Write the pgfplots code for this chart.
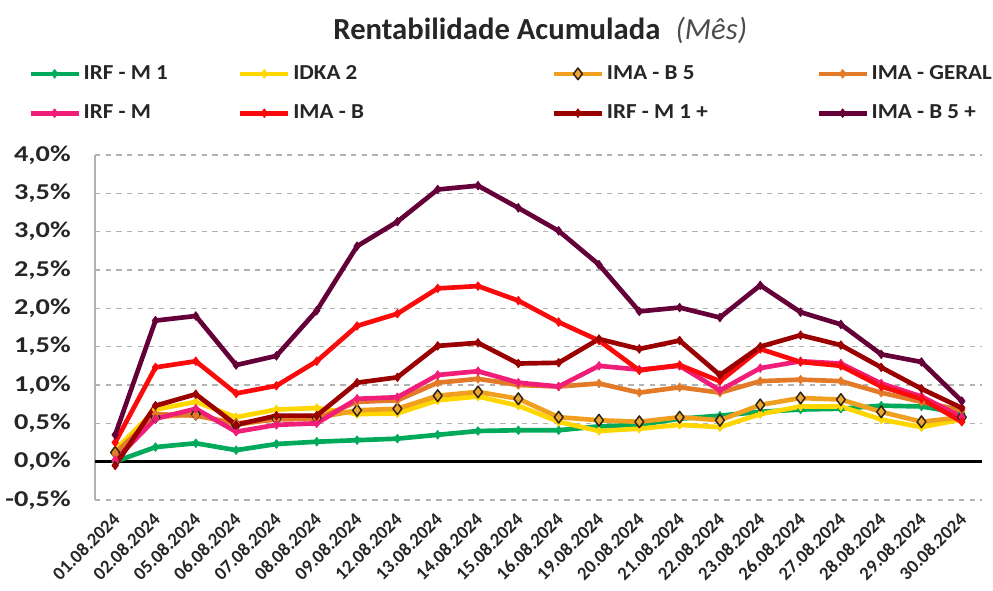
\documentclass[border=0pt]{standalone}
\usepackage{fontspec}
\setmainfont{Carlito}
\newfontfamily\tickfont{Carlito}[FakeStretch=1.25]
\newfontfamily\legfont{Carlito}[FakeStretch=1.08]
\usepackage{pgfplots}
\pgfplotsset{compat=1.18}
\usepackage{pgfplotstable}

\definecolor{cIRFMa}{RGB}{0,170,90}
\definecolor{cIDKA}{RGB}{255,214,0}
\definecolor{cIMABfive}{RGB}{240,160,30}
\definecolor{cIMABfivemark}{RGB}{232,168,50}
\definecolor{cGERAL}{RGB}{226,122,40}
\definecolor{cIRFM}{RGB}{240,30,120}
\definecolor{cIMAB}{RGB}{250,10,10}
\definecolor{cIRFMp}{RGB}{155,0,0}
\definecolor{cIMABfivep}{RGB}{100,0,55}

\pgfplotstableread{
x irfma idka imabfive geral irfm imab irfmp imabfivep
0  0.00 0.15 0.12 0.10 0.02 0.25 -0.05 0.35
1  0.19 0.68 0.58 0.62 0.56 1.23 0.73 1.84
2  0.24 0.78 0.62 0.60 0.69 1.31 0.88 1.90
3  0.15 0.58 0.48 0.50 0.39 0.89 0.48 1.26
4  0.23 0.68 0.56 0.55 0.48 0.99 0.60 1.38
5  0.26 0.70 0.57 0.56 0.50 1.31 0.60 1.97
6  0.28 0.62 0.67 0.78 0.82 1.77 1.03 2.81
7  0.30 0.63 0.69 0.80 0.84 1.93 1.10 3.13
8  0.35 0.80 0.86 1.03 1.13 2.26 1.51 3.55
9  0.40 0.85 0.91 1.08 1.18 2.29 1.55 3.60
10 0.41 0.73 0.82 1.00 1.03 2.10 1.28 3.31
11 0.41 0.52 0.58 0.98 0.98 1.82 1.29 3.01
12 0.46 0.40 0.54 1.02 1.25 1.58 1.60 2.57
13 0.48 0.43 0.52 0.90 1.20 1.19 1.47 1.96
14 0.56 0.48 0.58 0.97 1.25 1.26 1.58 2.01
15 0.60 0.45 0.54 0.90 0.93 1.05 1.13 1.88
16 0.65 0.62 0.74 1.05 1.22 1.47 1.50 2.30
17 0.68 0.72 0.83 1.07 1.31 1.30 1.65 1.95
18 0.69 0.72 0.81 1.05 1.28 1.25 1.52 1.79
19 0.73 0.55 0.65 0.90 1.02 0.98 1.23 1.40
20 0.72 0.45 0.52 0.78 0.85 0.82 0.95 1.30
21 0.63 0.55 0.58 0.67 0.58 0.52 0.70 0.79
}\datatable

\begin{document}
\begin{tikzpicture}
\begin{axis}[
  at={(0pt,0pt)}, anchor=south west,
  scale only axis, width=665.25pt, height=258.75pt,
  xmin=-0.5, xmax=21.5, ymin=-0.5, ymax=4,
  ytick={-0.5,0,0.5,1,1.5,2,2.5,3,3.5,4},
  xtick={0,...,21},
  xticklabels={01.08.2024,02.08.2024,05.08.2024,06.08.2024,07.08.2024,08.08.2024,09.08.2024,12.08.2024,13.08.2024,14.08.2024,15.08.2024,16.08.2024,19.08.2024,20.08.2024,21.08.2024,22.08.2024,23.08.2024,26.08.2024,27.08.2024,28.08.2024,29.08.2024,30.08.2024},
  major tick length=0pt,
  axis y line*=left, axis x line*=bottom,
  x axis line style={draw=none},
  y axis line style={draw=black!30, line width=0.8pt},
  ymajorgrids,
  major grid style={draw=black!30, line width=0.8pt, dash pattern=on 4pt off 4pt},
  extra y ticks={0}, extra y tick labels={},
  extra y tick style={ymajorgrids=true, major grid style={draw=black, solid, line width=2.3pt}},
  yticklabel={\pgfmathprintnumber[fixed,fixed zerofill,precision=1,use comma,assume math mode=true]{\tick}\%},
  yticklabel style={font=\tickfont\fontsize{17}{19}\selectfont\bfseries, anchor=east, inner sep=0pt, xshift=-18pt, text=black!85},
  xticklabel style={font=\fontsize{14}{16}\selectfont\bfseries, yshift=-12pt, xshift=1pt, anchor=east, rotate=45, inner sep=0pt, text=black!85},
  title={\textbf{Rentabilidade Acumulada}\enspace{\mdseries\itshape\color{black!70}(Mês)}},
  title style={at={(axis description cs:0.502,1.339)}, anchor=center, font=\fontsize{23}{26}\selectfont, text=black!85},
  legend columns=4,
  legend cell align=left,
  legend style={at={(axis description cs:-0.0755,1.264)}, anchor=north west, draw=none, fill=none,
    inner sep=0pt, column sep=0pt, row sep=15pt,
    font=\legfont\fontsize{16}{18}\selectfont\bfseries,
    nodes={inner xsep=2pt, inner ysep=0pt, text height=11.5pt, text depth=3pt, text=black!85}},
  legend image code/.code={\draw[mark repeat=2,mark phase=2] plot coordinates {(0pt,0pt) (18pt,0pt) (36pt,0pt)};},
  every axis plot/.append style={line width=3.5pt, line join=round, mark=diamond*, mark size=3.3pt},
]
\addplot[cIRFMa, mark options={solid, line width=0.5pt, fill=cIRFMa}] table[x=x,y=irfma]{\datatable};
\addlegendentry{\makebox[113.75pt][l]{IRF - M 1}}
\addplot[cIDKA, mark options={solid, line width=0.5pt, fill=cIDKA}] table[x=x,y=idka]{\datatable};
\addlegendentry{\makebox[191.75pt][l]{IDKA 2}}
\addplot[cIMABfive, mark size=4.4pt, mark options={solid, line width=1.1pt, draw=black!75!brown, fill=cIMABfivemark}] table[x=x,y=imabfive]{\datatable};
\addlegendentry{\makebox[155pt][l]{IMA - B 5}}
\addplot[cGERAL, mark options={solid, line width=0.5pt, fill=cGERAL}] table[x=x,y=geral]{\datatable};
\addlegendentry{IMA - GERAL}
\addplot[cIRFM, mark options={solid, line width=0.5pt, fill=cIRFM}] table[x=x,y=irfm]{\datatable};
\addlegendentry{\makebox[113.75pt][l]{IRF - M}}
\addplot[cIMAB, mark options={solid, line width=0.5pt, fill=cIMAB}] table[x=x,y=imab]{\datatable};
\addlegendentry{\makebox[191.75pt][l]{IMA - B}}
\addplot[cIRFMp, mark options={solid, line width=0.5pt, fill=cIRFMp}] table[x=x,y=irfmp]{\datatable};
\addlegendentry{\makebox[155pt][l]{IRF - M 1 +}}
\addplot[cIMABfivep, mark options={solid, line width=0.5pt, fill=cIMABfivep}] table[x=x,y=imabfivep]{\datatable};
\addlegendentry{IMA - B 5 +}
\end{axis}
\pgfresetboundingbox
\path[use as bounding box] (-71.25pt,-68.25pt) rectangle (673.5pt,375pt);
\end{tikzpicture}
\end{document}
